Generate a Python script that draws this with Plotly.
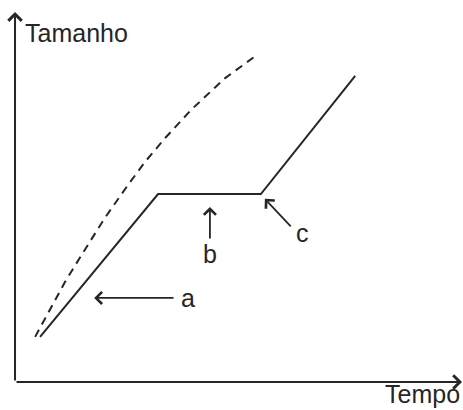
import plotly.graph_objects as go

# solid curve (growth with plateau)
solid_tempo = [0.56, 3.20, 5.50, 7.61]
solid_tamanho = [1.23, 5.12, 5.12, 8.34]

# dashed curve (continuous growth)
dash_tempo = [0.45, 0.74, 1.12, 1.57, 2.01, 2.51, 2.91, 3.36, 3.96, 4.70, 5.41]
dash_tamanho = [1.23, 1.88, 2.73, 3.62, 4.47, 5.34, 6.00, 6.65, 7.44, 8.28, 8.91]

# labelled arrows: tail -> head, plus label position
labels = ['a', 'b', 'c']
tail_x = [3.58, 4.36, 6.20]
tail_y = [2.29, 3.87, 4.20]
head_x = [1.77, 4.36, 5.59]
head_y = [2.29, 4.77, 4.99]
text_x = [3.86, 4.36, 6.44]
text_y = [2.29, 3.48, 4.05]

ink = '#262626'
font = dict(family='Liberation Sans, Arial, sans-serif', size=25, color=ink)

fig = go.Figure()
fig.add_trace(go.Scatter(x=dash_tempo, y=dash_tamanho, mode='lines',
                         line=dict(color=ink, width=2, dash='8px,6px'),
                         hoverinfo='skip'))
fig.add_trace(go.Scatter(x=solid_tempo, y=solid_tamanho, mode='lines',
                         line=dict(color=ink, width=2), hoverinfo='skip'))

annotations = []
for lab, tx, ty, hx, hy, lx, ly in zip(labels, tail_x, tail_y, head_x, head_y, text_x, text_y):
    annotations.append(dict(x=hx, y=hy, ax=tx, ay=ty, axref='x', ayref='y',
                            text='', showarrow=True, arrowhead=4, arrowsize=1.3,
                            arrowwidth=1.8, arrowcolor=ink))
    annotations.append(dict(x=lx, y=ly, text=lab, showarrow=False, font=font))

# axes drawn as arrows from the origin
annotations.append(dict(x=10.0, y=0, ax=0, ay=0, axref='x', ayref='y', text='',
                        showarrow=True, arrowhead=4, arrowsize=1.3, arrowwidth=2,
                        arrowcolor=ink))
annotations.append(dict(x=0, y=10.08, ax=0, ay=0, axref='x', ayref='y', text='',
                        showarrow=True, arrowhead=4, arrowsize=1.3, arrowwidth=2,
                        arrowcolor=ink))
annotations.append(dict(x=0.175, y=9.51, text='Tamanho', showarrow=False,
                        xanchor='left', yanchor='middle', font=font))
annotations.append(dict(x=10.0, y=0.1, text='Tempo', showarrow=False,
                        xanchor='right', yanchor='top', font=font))

fig.update_layout(
    width=463, height=410,
    margin=dict(l=0, r=0, t=0, b=0),
    paper_bgcolor='white', plot_bgcolor='white',
    showlegend=False,
    xaxis=dict(range=[-0.336, 10.022], showgrid=False, zeroline=False, showticklabels=False,
               ticks='', showline=False, fixedrange=True),
    yaxis=dict(range=[-0.763, 10.409], showgrid=False, zeroline=False, showticklabels=False,
               ticks='', showline=False, fixedrange=True),
    annotations=annotations,
)

# drop the browser's default body margin so the figure sits at the window corner
fig.write_html("out.html", config={'displayModeBar': False},
               post_script="document.body.style.margin='0';")
